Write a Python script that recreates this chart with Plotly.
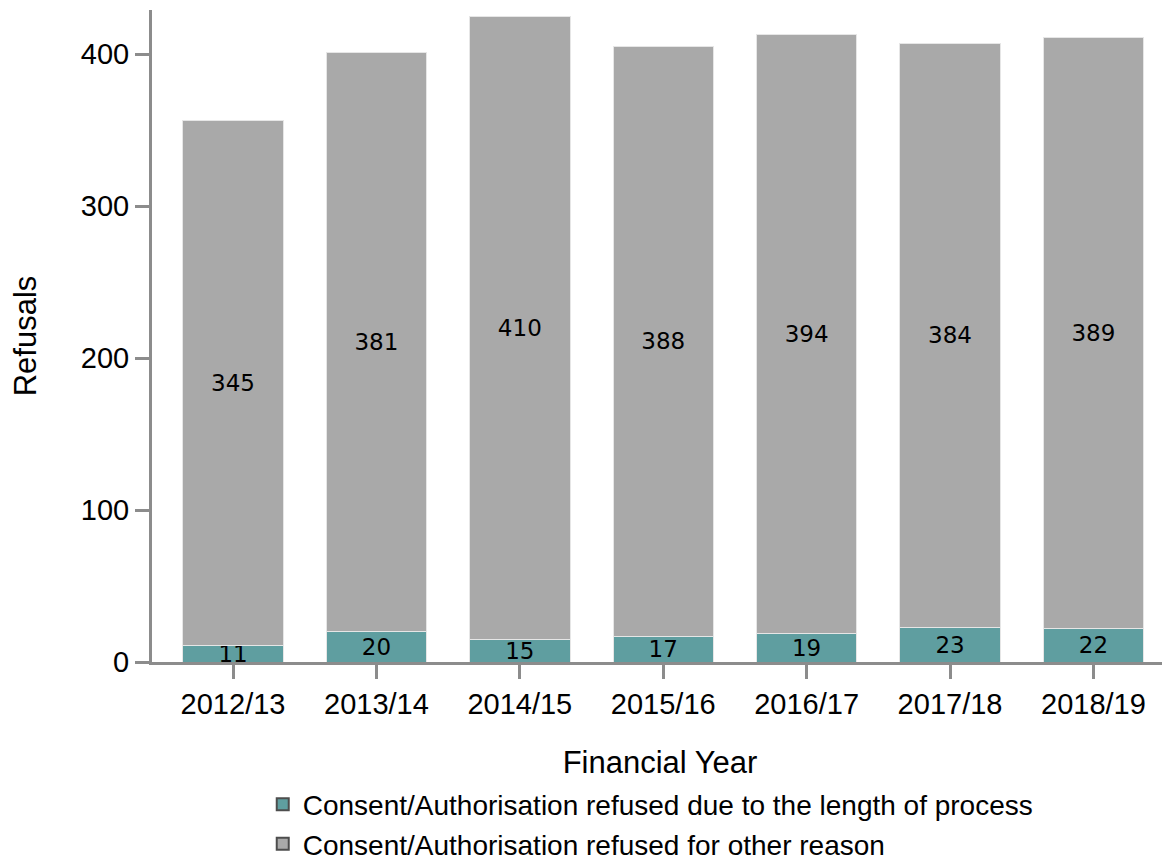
import plotly.graph_objects as go

years = ["2012/13", "2013/14", "2014/15", "2015/16", "2016/17", "2017/18", "2018/19"]
length_of_process = [11, 20, 15, 17, 19, 23, 22]
other_reason = [345, 381, 410, 388, 394, 384, 389]
series_names = [
    "Consent/Authorisation refused due to the length of process",
    "Consent/Authorisation refused for other reason",
]
y_ticks = [0, 100, 200, 300, 400]

TEAL = "#5F9EA0"
GREY = "#A9A9A9"
AXIS = "#8C8C8C"
LABEL_FONT = dict(family="DejaVu Sans", size=23, color="black")

fig = go.Figure()
for vals, color, name in [(length_of_process, TEAL, series_names[0]),
                          (other_reason, GREY, series_names[1])]:
    fig.add_trace(go.Bar(
        x=years, y=vals, name=name, showlegend=False,
        marker=dict(color=color, line=dict(color="#E6E6E6", width=1)),
        text=[str(v) for v in vals], textposition="inside",
        insidetextanchor="middle", textfont=LABEL_FONT,
    ))
# legend-only entries (larger square swatches with dark outline)
for color, name in [(TEAL, series_names[0]), (GREY, series_names[1])]:
    fig.add_trace(go.Scatter(
        x=[None], y=[None], mode="markers", name=name,
        marker=dict(symbol="square", size=16, color=color,
                    line=dict(color="#4D4D4D", width=1)),
    ))

fig.update_layout(
    barmode="stack",
    bargap=0.3,
    width=1170, height=864,
    margin=dict(l=144, r=10, t=2, b=210),
    paper_bgcolor="white", plot_bgcolor="white",
    font=dict(family="Liberation Sans, Arial", color="black"),
    uniformtext=dict(minsize=23, mode="show"),
    showlegend=True,
    legend=dict(
        orientation="v", x=0.109, xanchor="left",
        yref="container", y=0.107, yanchor="top",
        font=dict(size=28, family="Liberation Sans, Arial"),
        traceorder="normal", bgcolor="rgba(0,0,0,0)",
        itemsizing="constant",
    ),
    xaxis=dict(
        type="category", range=[-0.565, 6.52], automargin=False,
        showline=True, linecolor=AXIS, linewidth=3,
        ticks="outside", ticklen=14, tickwidth=3, tickcolor=AXIS,
        tickfont=dict(size=29),
        title=dict(text="Financial Year", font=dict(size=31), standoff=34),
        showgrid=False, zeroline=False,
    ),
    yaxis=dict(
        range=[0, 429], tickvals=y_ticks, automargin=False,
        showline=True, linecolor=AXIS, linewidth=3,
        ticks="outside", ticklen=14, tickwidth=3, tickcolor=AXIS,
        tickfont=dict(size=29),
        title=dict(text="Refusals", font=dict(size=31), standoff=36),
        showgrid=False, zeroline=False,
    ),
)

fig.write_html("out.html")
